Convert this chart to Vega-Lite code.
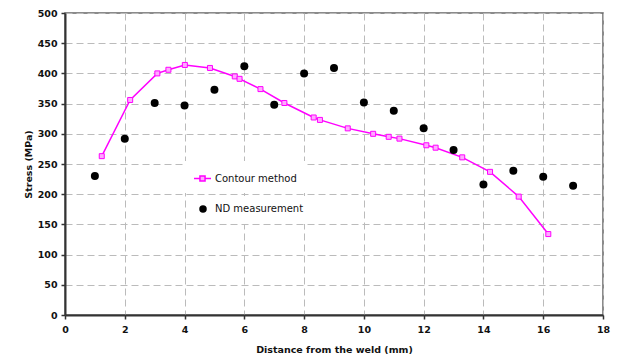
{
  "$schema": "https://vega.github.io/schema/vega-lite/v6.json",
  "width": 538,
  "height": 302,
  "autosize": {"type": "none"},
  "padding": {"left": 65, "top": 13, "right": 14, "bottom": 41},
  "background": "white",
  "config": {
    "font": "DejaVu Sans",
    "view": {"stroke": "#666666", "strokeWidth": 1.5},
    "axis": {
      "domainColor": "#333333",
      "domainWidth": 2,
      "tickColor": "#333333",
      "tickSize": 4,
      "tickWidth": 1.5,
      "labelFont": "DejaVu Sans",
      "labelFontWeight": "bold",
      "labelFontSize": 9.5,
      "labelColor": "#111111",
      "titleFont": "DejaVu Sans",
      "titleFontWeight": "bold",
      "titleFontSize": 9.5,
      "titleColor": "#111111",
      "gridColor": "#bbbbbb",
      "gridDash": [7, 4],
      "gridWidth": 1
    },
    "legend": {
      "labelFont": "DejaVu Sans",
      "labelFontSize": 10,
      "labelColor": "#111111",
      "fillColor": "white",
      "padding": 8,
      "title": null,
      "orient": "none"
    }
  },
  "datasets": {
    "contour": [
      {"distance": 1.23, "stress": 263, "series": "Contour method"},
      {"distance": 2.18, "stress": 356, "series": "Contour method"},
      {"distance": 3.09, "stress": 400, "series": "Contour method"},
      {"distance": 3.46, "stress": 406, "series": "Contour method"},
      {"distance": 4.01, "stress": 414, "series": "Contour method"},
      {"distance": 4.85, "stress": 409, "series": "Contour method"},
      {"distance": 5.68, "stress": 395, "series": "Contour method"},
      {"distance": 5.84, "stress": 391, "series": "Contour method"},
      {"distance": 6.54, "stress": 374, "series": "Contour method"},
      {"distance": 7.34, "stress": 351, "series": "Contour method"},
      {"distance": 8.32, "stress": 327, "series": "Contour method"},
      {"distance": 8.53, "stress": 323, "series": "Contour method"},
      {"distance": 9.46, "stress": 309, "series": "Contour method"},
      {"distance": 10.31, "stress": 300, "series": "Contour method"},
      {"distance": 10.83, "stress": 295, "series": "Contour method"},
      {"distance": 11.19, "stress": 292, "series": "Contour method"},
      {"distance": 12.09, "stress": 281, "series": "Contour method"},
      {"distance": 12.40, "stress": 277, "series": "Contour method"},
      {"distance": 13.29, "stress": 261, "series": "Contour method"},
      {"distance": 14.22, "stress": 237, "series": "Contour method"},
      {"distance": 15.18, "stress": 196, "series": "Contour method"},
      {"distance": 16.17, "stress": 134, "series": "Contour method"}
    ],
    "nd": [
      {"distance": 1, "stress": 230, "series": "ND measurement"},
      {"distance": 2, "stress": 292, "series": "ND measurement"},
      {"distance": 3, "stress": 351, "series": "ND measurement"},
      {"distance": 4, "stress": 347, "series": "ND measurement"},
      {"distance": 5, "stress": 373, "series": "ND measurement"},
      {"distance": 6, "stress": 412, "series": "ND measurement"},
      {"distance": 7, "stress": 348, "series": "ND measurement"},
      {"distance": 8, "stress": 400, "series": "ND measurement"},
      {"distance": 9, "stress": 409, "series": "ND measurement"},
      {"distance": 10, "stress": 352, "series": "ND measurement"},
      {"distance": 11, "stress": 338, "series": "ND measurement"},
      {"distance": 12, "stress": 309, "series": "ND measurement"},
      {"distance": 13, "stress": 273, "series": "ND measurement"},
      {"distance": 14, "stress": 216, "series": "ND measurement"},
      {"distance": 15, "stress": 239, "series": "ND measurement"},
      {"distance": 16, "stress": 229, "series": "ND measurement"},
      {"distance": 17, "stress": 214, "series": "ND measurement"}
    ]
  },
  "encoding": {
    "x": {
      "field": "distance",
      "type": "quantitative",
      "scale": {"domain": [0, 18], "nice": false, "zero": false},
      "axis": {"values": [0, 2, 4, 6, 8, 10, 12, 14, 16, 18], "title": "Distance from the weld (mm)", "labelPadding": 5, "titlePadding": 11, "labelFlush": false}
    },
    "y": {
      "field": "stress",
      "type": "quantitative",
      "scale": {"domain": [0, 500], "nice": false},
      "axis": {"values": [0, 50, 100, 150, 200, 250, 300, 350, 400, 450, 500], "title": "Stress (MPa)", "labelPadding": 4, "titlePadding": 4}
    }
  },
  "layer": [
    {
      "data": {"name": "contour"},
      "mark": {"type": "line", "strokeWidth": 1.5},
      "encoding": {
        "color": {
          "field": "series",
          "type": "nominal",
          "scale": {"domain": ["Contour method"], "range": ["#ff00ff"]},
          "legend": {
            "legendX": 120,
            "legendY": 148,
            "symbolType": "M-1,0H-0.3M0.3,0H1M-0.3,-0.3H0.3V0.3H-0.3Z",
            "symbolSize": 289,
            "symbolStrokeWidth": 1.5,
            "symbolFillColor": "#ffaaff",
            "labelOffset": 3
          }
        }
      }
    },
    {
      "data": {"name": "contour"},
      "mark": {"type": "point", "shape": "square", "size": 25, "filled": true, "fill": "#ffaaff", "stroke": "#ff00ff", "strokeWidth": 1, "opacity": 1},
      "encoding": {}
    },
    {
      "data": {"name": "nd"},
      "mark": {"type": "point", "filled": true, "color": "black", "size": 64, "opacity": 1},
      "encoding": {
        "shape": {
          "field": "series",
          "type": "nominal",
          "scale": {"domain": ["ND measurement"], "range": ["circle"]},
          "legend": {
            "legendX": 125,
            "legendY": 183,
            "symbolSize": 56,
            "symbolFillColor": "black",
            "symbolStrokeColor": "black",
            "symbolOpacity": 1,
            "labelOffset": 7
          }
        }
      }
    }
  ]
}
